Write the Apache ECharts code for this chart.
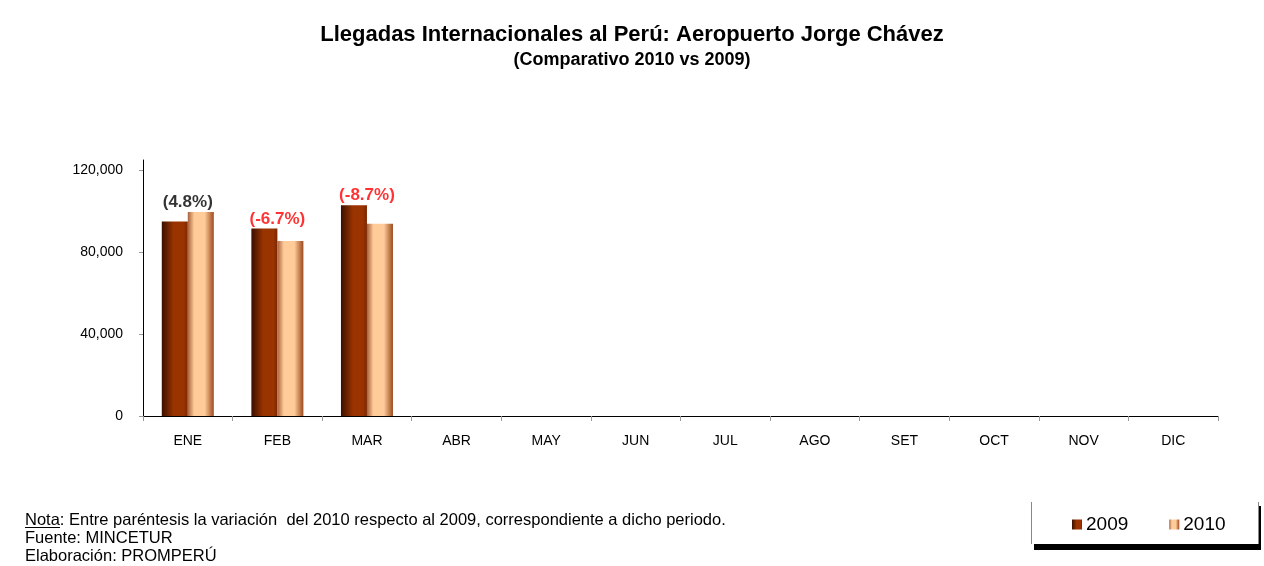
<!DOCTYPE html>
<html>
<head>
<meta charset="utf-8">
<script src="https://cdn.jsdelivr.net/npm/echarts@6/dist/echarts.min.js"></script>
<style>
html,body{margin:0;padding:0;background:#fff;}
#chart{width:1264px;height:566px;}
</style>
</head>
<body>
<div id="chart"></div>
<script>
var months = ['ENE','FEB','MAR','ABR','MAY','JUN','JUL','AGO','SET','OCT','NOV','DIC'];
var seriesNames = ['2009','2010'];
var values2009 = [95000, 91600, 102900, null, null, null, null, null, null, null, null, null];
var values2010 = [99600, 85400, 93900, null, null, null, null, null, null, null, null, null];
var pctLabels = ['(4.8%)', '(-6.7%)', '(-8.7%)'];
var pctValues = [4.8, -6.7, -8.7];
var yTicks = [0, 40000, 80000, 120000];

var labelPoints = pctLabels.map(function (t, i) {
  return {
    value: Math.max(values2009[i], values2010[i]),
    label: { formatter: t, color: pctValues[i] < 0 ? '#ff0000' : '#000000' }
  };
});

var grad2009 = new echarts.graphic.LinearGradient(0, 0, 1, 0, [
  { offset: 0, color: '#3a1000' },
  { offset: 0.45, color: '#993300' },
  { offset: 0.85, color: '#993300' },
  { offset: 1, color: '#7a2600' }
]);
var grad2010 = new echarts.graphic.LinearGradient(0, 0, 1, 0, [
  { offset: 0, color: '#a8603a' },
  { offset: 0.25, color: '#ffcc99' },
  { offset: 0.65, color: '#ffcc99' },
  { offset: 1, color: '#9c4a1f' }
]);

var font = 'Arial, "Liberation Sans", sans-serif';
var chart = echarts.init(document.getElementById('chart'));
chart.setOption({
  backgroundColor: '#ffffff',
  animation: false,
  textStyle: { fontFamily: font },
  title: {
    text: 'Llegadas Internacionales al Perú: Aeropuerto Jorge Chávez',
    subtext: '(Comparativo 2010 vs 2009)',
    left: 'center',
    top: 19,
    itemGap: 5,
    textStyle: { fontFamily: font, fontSize: 22, fontWeight: 'bold', color: '#000' },
    subtextStyle: { fontFamily: font, fontSize: 18, fontWeight: 'bold', color: '#000' }
  },
  legend: {
    data: seriesNames,
    left: 1072,
    top: 515,
    padding: 0,
    icon: 'rect',
    itemWidth: 10,
    itemHeight: 10,
    itemGap: 41,
    textStyle: { fontFamily: font, fontSize: 19, color: '#000', padding: [0, 0, 0, -1] }
  },
  grid: { left: 143, right: 46, top: 160, bottom: 150, containLabel: false },
  xAxis: {
    type: 'category',
    data: months,
    boundaryGap: true,
    axisLine: { lineStyle: { color: '#000', width: 1 } },
    axisTick: { show: true, length: 5, lineStyle: { color: '#999' } },
    axisLabel: { color: '#000', fontSize: 14, margin: 18, fontFamily: font }
  },
  yAxis: {
    type: 'value',
    min: 0,
    max: 125000,
    interval: 40000,
    splitLine: { show: false },
    axisLine: { show: true, lineStyle: { color: '#000', width: 1 } },
    axisTick: { show: true, length: 4, customValues: yTicks, lineStyle: { color: '#999' } },
    axisLabel: {
      color: '#000', fontSize: 14, margin: 20, fontFamily: font,
      customValues: yTicks,
      formatter: function (v) { return v.toLocaleString('en-US'); }
    }
  },
  series: [
    {
      name: seriesNames[0],
      type: 'bar',
      data: values2009,
      barWidth: 26,
      barGap: '0%',
      itemStyle: { color: grad2009 }
    },
    {
      name: seriesNames[1],
      type: 'bar',
      data: values2010,
      barWidth: 26,
      itemStyle: { color: grad2010 }
    },
    {
      name: 'variacion',
      type: 'scatter',
      data: labelPoints,
      symbolSize: 0,
      silent: true,
      label: {
        show: true,
        position: 'top',
        distance: 1,
        fontSize: 17,
        fontWeight: 'bold',
        fontFamily: font
      }
    }
  ],
  graphic: [
    { type: 'rect', shape: { x: 1034, y: 506, width: 227, height: 44 }, style: { fill: '#000' }, z: -2 },
    { type: 'rect', shape: { x: 1031, y: 502, width: 227, height: 42 }, style: { fill: '#fff' }, z: -1 },
    { type: 'line', shape: { x1: 1031.5, y1: 502, x2: 1031.5, y2: 544 }, style: { stroke: '#888', lineWidth: 1 }, z: -1 },
    { type: 'line', shape: { x1: 1258.5, y1: 502, x2: 1258.5, y2: 544 }, style: { stroke: '#888', lineWidth: 1 }, z: -1 },
    { type: 'text', left: 25, top: 512, style: { text: 'Nota: Entre paréntesis la variación  del 2010 respecto al 2009, correspondiente a dicho periodo.', fontSize: 16.5, fontFamily: font, fill: '#000' } },
    { type: 'line', shape: { x1: 25, y1: 527.5, x2: 60, y2: 527.5 }, style: { stroke: '#000', lineWidth: 1 } },
    { type: 'text', left: 25, top: 530, style: { text: 'Fuente: MINCETUR', fontSize: 16.5, fontFamily: font, fill: '#000' } },
    { type: 'text', left: 25, top: 548, style: { text: 'Elaboración: PROMPERÚ', fontSize: 16.5, fontFamily: font, fill: '#000' } }
  ]
});
</script>
</body>
</html>
